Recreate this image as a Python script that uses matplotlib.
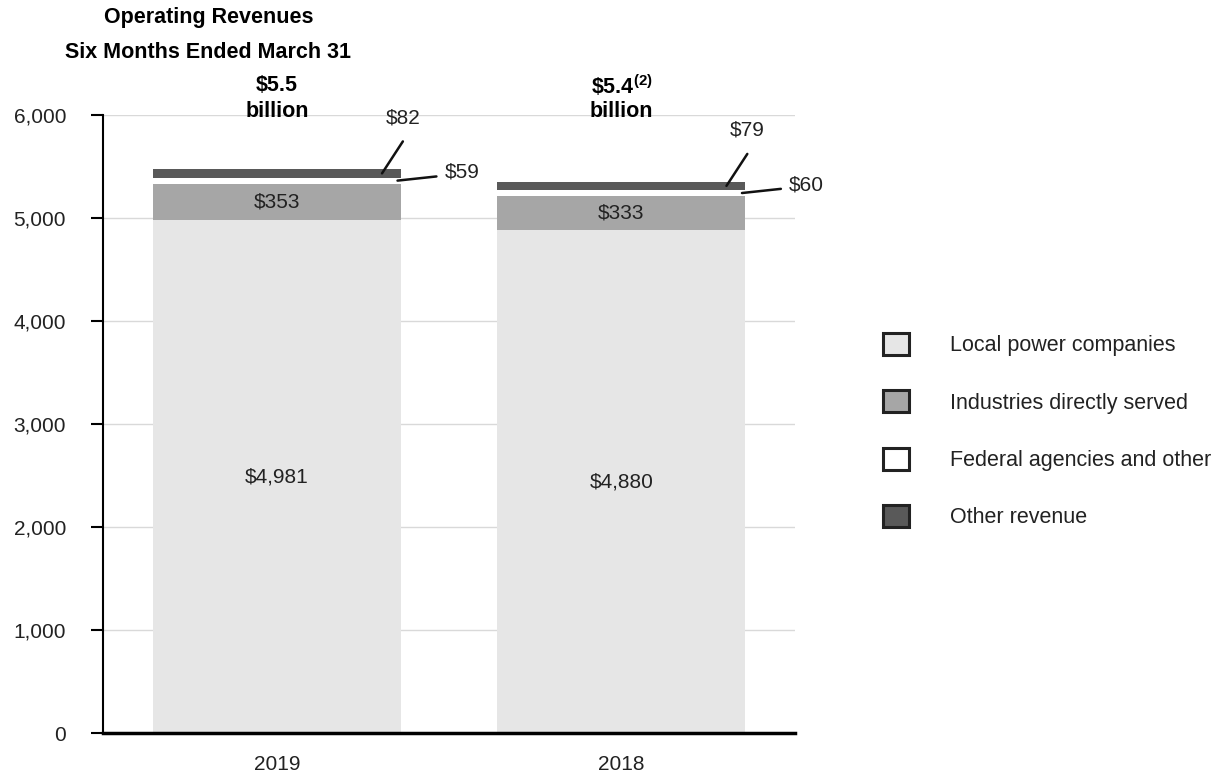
import matplotlib.pyplot as plt
from matplotlib.patches import Patch

plt.rcParams['font.family'] = ['Liberation Sans', 'DejaVu Sans']
plt.rcParams['mathtext.fontset'] = 'custom'
plt.rcParams['mathtext.rm'] = 'Liberation Sans'
plt.rcParams['mathtext.bf'] = 'Liberation Sans:bold'

years = ['2019', '2018']
local_power = [4981, 4880]
industries = [353, 333]
federal = [59, 60]
other = [82, 79]
totals_text = [r'\$5.5', r'\$5.4$^{\mathbf{(2)}}$']

series_names = ['Local power companies', 'Industries directly served',
                'Federal agencies and other', 'Other revenue']
colors = ['#e6e6e6', '#a6a6a6', '#ffffff', '#595959']

fig = plt.figure(figsize=(12.25, 7.79), dpi=100)
ax = fig.add_axes([0.0841, 0.059, 0.5649, 0.7933])

x = [0, 1]
w = 0.72
bottom = [0, 0]
for vals, c in zip([local_power, industries, federal, other], colors):
    ax.bar(x, vals, w, bottom=bottom, color=c, zorder=2)
    bottom = [b + v for b, v in zip(bottom, vals)]

ax.set_ylim(0, 6000)
ax.set_xlim(-0.505, 1.504)
ax.set_yticks(range(0, 6001, 1000))
ax.set_yticklabels([f'{v:,}' for v in range(0, 6001, 1000)])
ax.set_xticks(x)
ax.set_xticklabels(years)
ax.tick_params(axis='y', length=8.6, width=1.5, color='black', labelsize=15,
               pad=18, labelcolor='#222222')
ax.tick_params(axis='x', length=0, labelsize=15, pad=16, labelcolor='#222222')
ax.grid(axis='y', color='#d9d9d9', linewidth=1, zorder=0)
for s in ['top', 'right']:
    ax.spines[s].set_visible(False)
ax.spines['left'].set_linewidth(1.5)
ax.spines['bottom'].set_linewidth(2.5)
ax.spines['bottom'].set_zorder(3)

# segment labels inside the bars
for i in x:
    ax.text(i, local_power[i] / 2, f'${local_power[i]:,}', ha='center', va='center',
            fontsize=15, color='#222222', zorder=4)
    ax.text(i, local_power[i] + industries[i] / 2, f'${industries[i]}', ha='center',
            va='center', fontsize=15, color='#222222', zorder=4)

# leader labels for the thin segments
fed_mid = [lp + ind + f / 2 for lp, ind, f in zip(local_power, industries, federal)]
oth_mid = [lp + ind + f + o / 2 for lp, ind, f, o in zip(local_power, industries, federal, other)]
arrow = dict(arrowstyle='-', color='#111111', lw=1.8, shrinkA=0, shrinkB=0)
for i in x:
    ax.annotate('', xy=(i + 0.305, oth_mid[i]), xytext=(15, 23), textcoords='offset points',
                arrowprops=arrow, zorder=5)
    ax.annotate(f'${other[i]}', xy=(i + 0.305, oth_mid[i]), xytext=(15, 40),
                textcoords='offset points', ha='center', va='center', fontsize=15,
                color='#222222')
    ax.annotate('', xy=(i + w / 2 - 0.01, fed_mid[i]), xytext=(28, 3),
                textcoords='offset points', arrowprops=arrow, zorder=5)
    ax.annotate(f'${federal[i]}', xy=(i + w / 2 - 0.01, fed_mid[i]), xytext=(34, 6),
                textcoords='offset points', ha='left', va='center', fontsize=15,
                color='#222222')

# totals above bars
for i in x:
    ax.text(i, 6283, totals_text[i], ha='center', va='center', fontsize=15.5,
            fontweight='bold', clip_on=False)
    ax.text(i, 6035, 'billion', ha='center', va='center', fontsize=15.5,
            fontweight='bold', clip_on=False)

fig.text(0.170, 0.977, 'Operating Revenues', ha='center', va='center',
         fontsize=15.5, fontweight='bold')
fig.text(0.170, 0.933, 'Six Months Ended March 31', ha='center', va='center',
         fontsize=15.5, fontweight='bold')

handles = [Patch(facecolor=c, edgecolor='#222222', linewidth=2.2) for c in colors]
fig.legend(handles, series_names, loc='upper left', bbox_to_anchor=(0.7208, 0.5725),
           frameon=False, fontsize=15.5, handlelength=1.2, handleheight=1.2,
           handletextpad=1.9, labelspacing=1.58, borderpad=0, borderaxespad=0,
           labelcolor='#222222')

fig.savefig('out.png', dpi=100)
